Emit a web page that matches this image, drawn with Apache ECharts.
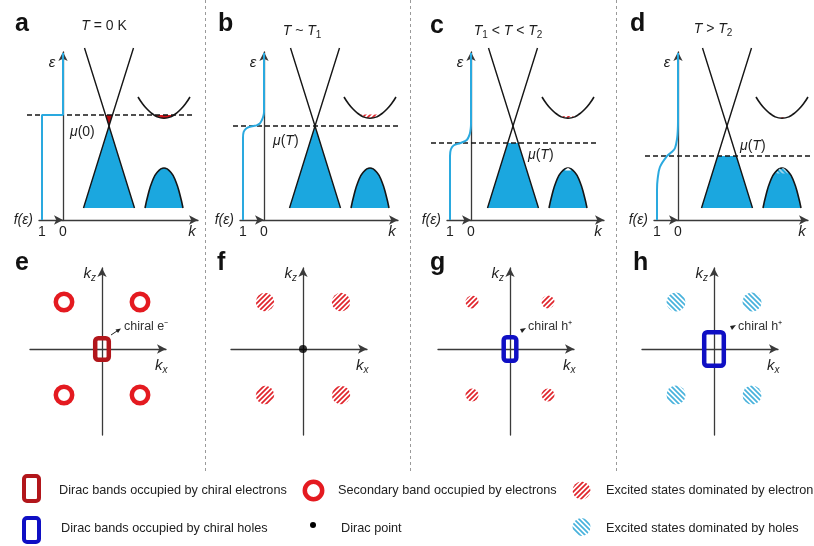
<!DOCTYPE html>
<html>
<head>
<meta charset="utf-8">
<title>Chiral carriers in a Dirac semimetal versus temperature</title>
<script src="https://cdn.jsdelivr.net/npm/echarts@6/dist/echarts.min.js"></script>
<style>
  html, body { margin: 0; padding: 0; background: #fff; }
  #chart { width: 814px; height: 546px; }
</style>
</head>
<body>
<div id="chart"></div>
<script>
// ---------------- data ----------------
// Energies ε and momenta k are in panel units; the Dirac point sits at (k, ε) = (0, 0).
const topLetters = ['a', 'b', 'c', 'd'];
const bottomLetters = ['e', 'f', 'g', 'h'];
const temperatureLabels = [
  '{i|T} = 0 K',
  '{i|T} ~ {i|T}{s|1}',
  '{i|T}{s|1} < {i|T} < {i|T}{s|2}',
  '{i|T} > {i|T}{s|2}'
];
const muLabels = ['{i|μ}(0)', '{i|μ}({i|T})', '{i|μ}({i|T})', '{i|μ}({i|T})'];
const chemicalPotential = [1.1, 0, -1.7, -3.0];
const fermiTicks = [0, 1];

// Dirac cone branches through the Dirac point
const coneBranchA = [[-2.45, 7.8], [0, 0], [2.55, -8.2]];
const coneBranchB = [[2.45, 7.8], [0, 0], [-2.55, -8.2]];
const bandBottom = -8.2;

// secondary bands at finite k
const secondaryConduction = [[2.9, 2.9], [3.3, 2.3], [3.8, 1.7], [4.3, 1.25], [4.8, 0.92], [5.5, 0.78],
  [6.2, 0.92], [6.7, 1.25], [7.2, 1.7], [7.7, 2.3], [8.1, 2.9]];
const secondaryValence = [[3.6, -8.2], [3.9, -6.9], [4.3, -5.6], [4.8, -4.65], [5.5, -4.2],
  [6.2, -4.65], [6.7, -5.6], [7.1, -6.9], [7.4, -8.2]];

// Fermi–Dirac occupation, points as (f, ε)
const fermiA = [[1, -9.4], [1, 1.1], [0, 1.1], [0, 7.3]];
const fermiB = [[1, -9.4], [1, -1.2], [0.97, -0.6], [0.85, -0.25], [0.67, -0.07], [0.5, 0], [0.35, 0.06],
  [0.2, 0.25], [0.1, 0.6], [0.03, 1.0], [0, 1.4], [0, 7.3]];
const fermiC = [[1, -9.4], [1, -3.0], [0.96, -2.35], [0.83, -1.95], [0.5, -1.7], [0.2, -1.4],
  [0.06, -0.8], [0.01, -0.2], [0, 0.2], [0, 7.3]];
const fermiD = [[1, -9.4], [1, -6.4], [0.97, -5.3], [0.86, -4.1], [0.54, -3.05], [0.3, -2.6],
  [0.14, -2.2], [0.04, -1.2], [0.01, -0.4], [0, 0.4], [0, 7.3]];

// electrons in the bottom of the secondary conduction band (k, ε)
const electronPocketA = [[4.5, 1.1], [4.9, 0.9], [5.5, 0.78], [6.1, 0.9], [6.5, 1.1]];
const electronPocketB = [[4.5, 1.15], [5.0, 0.88], [5.5, 0.78], [6.0, 0.88], [6.5, 1.15]];
const electronPocketC = [[4.9, 1.0], [5.2, 0.84], [5.5, 0.78], [5.8, 0.84], [6.1, 1.0]];
const electronPocketD = [[5.2, 0.87], [5.5, 0.78], [5.8, 0.87]];
// holes at the top of the secondary valence band
const holePocketC = [[5.2, -4.45], [5.5, -4.2], [5.8, -4.45]];
const holePocketD = [[4.9, -4.75], [5.2, -4.32], [5.5, -4.2], [5.8, -4.32], [6.1, -4.75]];

// (kx, kz) maps
const pocketSites = [[-3.8, 4.7], [3.8, 4.7], [-3.8, -4.6], [3.8, -4.6]];
const secondaryRingRadius = 0.82;
const excitedRadius = [0, 0.92, 0.65, 0.95];
const diracBoxHalf = [[0.68, 1.08], null, [0.63, 1.18], [0.98, 1.68]];
const diracPoint = [[0, 0]];
const chiralLabels = ['chiral e⁻', '', 'chiral h⁺', 'chiral h⁺'];

const legendLabels = [
  'Dirac bands occupied by chiral electrons',
  'Secondary band occupied by electrons',
  'Excited states dominated by electron',
  'Dirac bands occupied by chiral holes',
  'Dirac point',
  'Excited states dominated by holes'
];

// ---------------- styling & layout ----------------
const FONT = '"Liberation Sans", Arial, Helvetica, sans-serif';
const INK = '#161616';
const AXIS = '#3a3a3a';
const TEXT = '#1e1e1e';
const BLUE_FILL = '#1ba7df';
const FERMI_BLUE = '#2aa9df';
const RED = '#e41a20';
const DARK_RED = '#b2161b';
const TRI_RED = '#b80c10';
const BOX_BLUE = '#0f0fc4';
const HATCH_RED = '#e0252c';
const HATCH_BLUE = '#48b2dc';

const TOP = 48, H = 172, EMIN = -9.4, EMAX = 7.8;
const topLayout = [
  { ex: 63, cx: 109, kEnd: 198 },
  { ex: 264, cx: 315, kEnd: 398 },
  { ex: 471, cx: 513, kEnd: 604 },
  { ex: 678, cx: 727, kEnd: 808 }
];
const titlePos = [[104, 26], [302, 31], [508, 31], [713, 29]];
const letterPos = [[15, 24], [218, 24], [430, 26], [630, 24]];
const muLabelPos = [[70, 132], [273, 141], [528, 155], [740, 146]];
const bottomCenter = [102, 303, 510, 714];
const bottomLetterPos = [[15, 263], [217, 263], [430, 263], [633, 263]];
const chiralPos = [[124, 327], null, [528, 327], [738, 327]];

const fermiCurves = [fermiA, fermiB, fermiC, fermiD];
const electronPockets = [electronPocketA, electronPocketB, electronPocketC, electronPocketD];
const holePockets = [null, null, holePocketC, holePocketD];

function hatchPattern(color, rising) {
  const s = 5, cv = document.createElement('canvas');
  cv.width = cv.height = s;
  const g = cv.getContext('2d');
  g.strokeStyle = color; g.lineWidth = 1.7;
  g.beginPath();
  if (rising) {
    g.moveTo(0, s); g.lineTo(s, 0);
    g.moveTo(-1, 1); g.lineTo(1, -1);
    g.moveTo(s - 1, s + 1); g.lineTo(s + 1, s - 1);
  } else {
    g.moveTo(0, 0); g.lineTo(s, s);
    g.moveTo(s - 1, -1); g.lineTo(s + 1, 1);
    g.moveTo(-1, s - 1); g.lineTo(1, s + 1);
  }
  g.stroke();
  return { image: cv, repeat: 'repeat' };
}
const redHatch = hatchPattern(HATCH_RED, true);
const blueHatch = hatchPattern(HATCH_BLUE, false);
const paleHatch = hatchPattern('#9fd6ee', false);

const grid = [], xAxis = [], yAxis = [], series = [], graphic = [];

function addGrid(g, xa, ya) {
  g.outerBoundsMode = 'none';
  grid.push(g);
  const i = grid.length - 1;
  xa.gridIndex = i; ya.gridIndex = i;
  xAxis.push(xa); yAxis.push(ya);
  return i;
}
function hiddenAxis(min, max) {
  return { type: 'value', min, max, show: false };
}
function arrowAxis(min, max, extra) {
  return Object.assign({
    type: 'value', min, max,
    axisLine: { show: true, onZero: true, symbol: ['none', 'arrow'], symbolSize: [7, 9],
      lineStyle: { color: AXIS, width: 1.3 } },
    axisTick: { show: false }, axisLabel: { show: false }, splitLine: { show: false }
  }, extra || {});
}
function lineSeries(gi, data, opts) {
  return Object.assign({
    type: 'line', xAxisIndex: gi, yAxisIndex: gi, data,
    symbol: 'none', silent: true, animation: false,
    lineStyle: { color: INK, width: 1.5 }
  }, opts);
}
function txt(x, y, text, style) {
  graphic.push({
    type: 'text', x, y, silent: true,
    style: Object.assign({ text, fill: TEXT, fontFamily: FONT, fontSize: 14, align: 'left', verticalAlign: 'middle' }, style || {})
  });
}
const richBase = {
  i: { fontStyle: 'italic', fontFamily: FONT, fontSize: 14, fill: TEXT, lineHeight: 18 },
  s: { fontFamily: FONT, fontSize: 10, fill: TEXT, lineHeight: 10, verticalAlign: 'bottom' }
};
const richK = {
  i: { fontStyle: 'italic', fontFamily: FONT, fontSize: 15, fill: TEXT, lineHeight: 18 },
  s: { fontStyle: 'italic', fontFamily: FONT, fontSize: 10, fill: TEXT, lineHeight: 10, verticalAlign: 'bottom' }
};

// lower Dirac cone filled up to min(μ, Dirac point)
function filledCone(mu) {
  const top = Math.min(mu, 0);
  const l = coneBranchB[2], r = coneBranchA[2];
  if (top === 0) return [l, [0, 0], r];
  return [l, [l[0] * top / l[1], top], [r[0] * top / r[1], top], r];
}
// upper Dirac cone filled from the Dirac point up to μ > 0
function electronCone(mu) {
  const l = coneBranchA[0], r = coneBranchB[0];
  return [[l[0] * mu / l[1], mu], [0, 0], [r[0] * mu / r[1], mu]];
}

// ---------------- panels a–d: band diagrams ----------------
topLayout.forEach((L, p) => {
  const mu = chemicalPotential[p];

  // ε and k axes
  addGrid({ left: L.ex, top: 52, width: L.kEnd - L.ex, height: 168 }, arrowAxis(0, 1), arrowAxis(0, 1));

  // bands
  const gb = addGrid({ left: L.cx - 90, top: TOP, width: 180, height: H }, hiddenAxis(-9, 9), hiddenAxis(EMIN, EMAX));
  series.push(lineSeries(gb, filledCone(mu), {
    lineStyle: { width: 0 }, areaStyle: { color: BLUE_FILL, opacity: 1, origin: bandBottom }, z: 1
  }));
  series.push(lineSeries(gb, secondaryValence, {
    smooth: 0.5, lineStyle: { color: INK, width: 1.6 },
    areaStyle: { color: BLUE_FILL, opacity: 1, origin: bandBottom }, z: 2
  }));
  if (mu > 0) {
    series.push(lineSeries(gb, electronCone(mu), {
      lineStyle: { width: 0 }, areaStyle: { color: TRI_RED, opacity: 1, origin: mu }, z: 3
    }));
  }
  const ep = electronPockets[p];
  series.push(lineSeries(gb, ep, {
    smooth: 0.5, lineStyle: { width: 0 },
    areaStyle: { color: p === 0 ? '#d3141b' : redHatch, opacity: 1, origin: ep[0][1] }, z: 3
  }));
  const hp = holePockets[p];
  if (hp) {
    series.push(lineSeries(gb, hp, {
      smooth: 0.5, lineStyle: { width: 0 },
      areaStyle: { color: p === 2 ? '#ffffff' : paleHatch, opacity: 1, origin: hp[0][1] }, z: 3
    }));
  }
  series.push(lineSeries(gb, coneBranchA, { lineStyle: { color: INK, width: 1.4 }, z: 5 }));
  series.push(lineSeries(gb, coneBranchB, { lineStyle: { color: INK, width: 1.4 }, z: 5 }));
  series.push(lineSeries(gb, secondaryConduction, { smooth: 0.5, lineStyle: { color: INK, width: 1.6 }, z: 5 }));
  series.push(lineSeries(gb, [[-8.2, mu], [8.4, mu]], {
    lineStyle: { color: INK, width: 1.6, type: [5, 3] }, z: 6
  }));

  // occupation f(ε), plotted leftwards from the ε axis
  const gf = addGrid({ left: L.ex - 24, top: TOP, width: 24, height: H }, {
    type: 'value', inverse: true, min: 0, max: 8 / 7,
    axisLine: { show: true, onZero: false, symbol: ['none', 'arrow'], symbolSize: [7, 9],
      lineStyle: { color: AXIS, width: 1.3 } },
    axisTick: { show: false }, splitLine: { show: false },
    axisLabel: { show: true, customValues: fermiTicks, margin: 5, fontSize: 14, fontFamily: FONT, color: TEXT },
    name: 'f(ε)', nameLocation: 'end', nameGap: 6, nameMoveOverlap: false,
    nameTextStyle: { fontStyle: 'italic', fontSize: 14, fontFamily: FONT, color: TEXT, verticalAlign: 'middle' }
  }, hiddenAxis(EMIN, EMAX));
  series.push(lineSeries(gf, fermiCurves[p], {
    smooth: p ? 0.35 : false, clip: false, lineStyle: { color: FERMI_BLUE, width: 2 }, z: 8
  }));

  // labels
  txt(letterPos[p][0], letterPos[p][1], topLetters[p], { fontSize: 25, fontWeight: 'bold', fill: '#111' });
  txt(titlePos[p][0], titlePos[p][1], temperatureLabels[p], { align: 'center', lineHeight: 18, rich: richBase });
  txt(muLabelPos[p][0], muLabelPos[p][1], muLabels[p], { lineHeight: 18, rich: richBase });
  txt(L.ex - 11, 63, 'ε', { fontStyle: 'italic', fontSize: 15, align: 'center' });
  txt(L.kEnd - 6, 232, 'k', { fontStyle: 'italic', fontSize: 15, align: 'center' });
});

// ---------------- panels e–h: (kx, kz) maps ----------------
function circleRender(stroke, width, fill) {
  return function (params, api) {
    const c = api.coord([api.value(0), api.value(1)]);
    const r = api.size([api.value(2), 0])[0];
    return {
      type: 'circle', shape: { cx: c[0], cy: c[1], r },
      style: { fill: fill || 'none', stroke: stroke || 'none', lineWidth: width || 0 }
    };
  };
}
function boxRender(color) {
  return function (params, api) {
    const c = api.coord([api.value(0), api.value(1)]);
    const s = api.size([api.value(2), api.value(3)]);
    return {
      type: 'rect', shape: { x: c[0] - s[0], y: c[1] - s[1], width: 2 * s[0], height: 2 * s[1], r: 3 },
      style: { fill: 'none', stroke: color, lineWidth: 4.5 }
    };
  };
}

bottomCenter.forEach((cx, p) => {
  const gi = addGrid({ left: cx - 72, top: 268, width: 136, height: 167 }, arrowAxis(-7.2, 6.4), arrowAxis(-8.6, 8.1));
  const sites = pocketSites.map(s => [s[0], s[1], p === 0 ? secondaryRingRadius : excitedRadius[p]]);
  series.push({
    type: 'custom', xAxisIndex: gi, yAxisIndex: gi, data: sites, silent: true, animation: false,
    encode: { x: 0, y: 1 }, z: 3,
    renderItem: p === 0 ? circleRender(RED, 4.5) : circleRender(null, 0, p === 3 ? blueHatch : redHatch)
  });
  const box = diracBoxHalf[p];
  if (box) {
    series.push({
      type: 'custom', xAxisIndex: gi, yAxisIndex: gi, data: [[0, 0, box[0], box[1]]], silent: true,
      animation: false, encode: { x: 0, y: 1 }, z: 4,
      renderItem: boxRender(p === 0 ? DARK_RED : BOX_BLUE)
    });
  }
  if (p === 1) {
    series.push({
      type: 'scatter', xAxisIndex: gi, yAxisIndex: gi, data: diracPoint, symbolSize: 8,
      itemStyle: { color: '#000' }, silent: true, animation: false, z: 4
    });
  }

  txt(bottomLetterPos[p][0], bottomLetterPos[p][1], bottomLetters[p], { fontSize: 25, fontWeight: 'bold', fill: '#111' });
  txt(cx - 6, 274, '{i|k}{s|z}', { align: 'right', lineHeight: 18, rich: richK });
  txt(cx + 53, 366, '{i|k}{s|x}', { lineHeight: 18, rich: richK });
  if (chiralPos[p]) {
    txt(chiralPos[p][0], chiralPos[p][1], chiralLabels[p], { fontSize: 12.5, fill: '#333' });
  }
});

// pointers from the chiral pockets to their labels
graphic.push({ type: 'line', silent: true, shape: { x1: 111, y1: 335, x2: 117, y2: 331 }, style: { stroke: '#222', lineWidth: 1 } });
graphic.push({ type: 'polygon', silent: true, shape: { points: [[121, 328.5], [115.5, 329.5], [118, 333]] }, style: { fill: '#222' } });
graphic.push({ type: 'polygon', silent: true, shape: { points: [[520, 329], [526, 328], [522, 333]] }, style: { fill: '#222' } });
graphic.push({ type: 'polygon', silent: true, shape: { points: [[730, 326], [736, 325], [732, 330]] }, style: { fill: '#222' } });

// ---------------- panel separators ----------------
[205.5, 410.5, 616.5].forEach(x => {
  graphic.push({ type: 'line', silent: true, shape: { x1: x, y1: 0, x2: x, y2: 472 },
    style: { stroke: '#9a9a9a', lineWidth: 1, lineDash: [3, 3] } });
});

// ---------------- legend ----------------
graphic.push({ type: 'rect', silent: true, shape: { x: 24, y: 476, width: 15, height: 25, r: 3 },
  style: { fill: 'none', stroke: DARK_RED, lineWidth: 4 } });
graphic.push({ type: 'rect', silent: true, shape: { x: 24, y: 518, width: 15, height: 24, r: 3 },
  style: { fill: 'none', stroke: BOX_BLUE, lineWidth: 4 } });
graphic.push({ type: 'circle', silent: true, shape: { cx: 313.5, cy: 490.5, r: 8.7 },
  style: { fill: 'none', stroke: RED, lineWidth: 4.5 } });
graphic.push({ type: 'circle', silent: true, shape: { cx: 313, cy: 525, r: 3 }, style: { fill: '#000' } });
graphic.push({ type: 'circle', silent: true, shape: { cx: 581.5, cy: 490.5, r: 9 }, style: { fill: redHatch } });
graphic.push({ type: 'circle', silent: true, shape: { cx: 581.5, cy: 527, r: 9 }, style: { fill: blueHatch } });
const legendPos = [[59, 490], [338, 490], [606, 490], [61, 528], [341, 528], [606, 528]];
legendLabels.forEach((t, i) => txt(legendPos[i][0], legendPos[i][1], t, { fontSize: 12.7, fill: '#222' }));

const chart = echarts.init(document.getElementById('chart'), null, { renderer: 'canvas' });
chart.setOption({
  animation: false,
  backgroundColor: '#ffffff',
  grid, xAxis, yAxis, series,
  graphic: { elements: graphic }
});
</script>
</body>
</html>
